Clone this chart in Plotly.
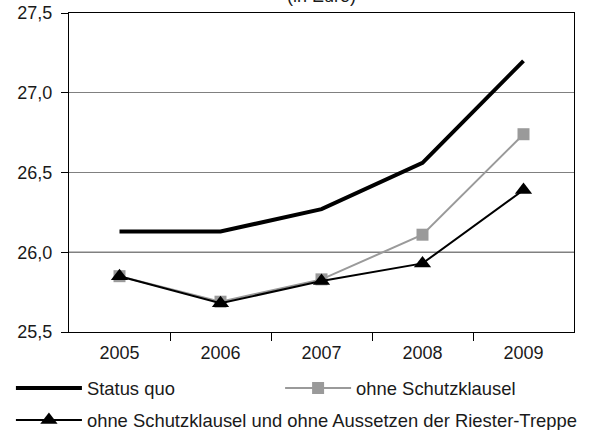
import plotly.graph_objects as go

years = [2005, 2006, 2007, 2008, 2009]
status_quo = [26.13, 26.13, 26.27, 26.56, 27.20]
ohne_schutzklausel = [25.85, 25.69, 25.83, 26.11, 26.74]
ohne_schutz_riester = [25.85, 25.68, 25.82, 25.93, 26.39]

names = [
    "Status quo",
    "ohne Schutzklausel",
    "ohne Schutzklausel und ohne Aussetzen der Riester-Treppe",
]
y_ticks = [25.5, 26.0, 26.5, 27.0, 27.5]

FONT = "Liberation Sans, Arial, sans-serif"
TXT = "#1a1a1a"

fig = go.Figure()
fig.add_trace(go.Scatter(
    x=years, y=status_quo, name=names[0], mode="lines",
    line=dict(color="black", width=4), legend="legend",
))
fig.add_trace(go.Scatter(
    x=years, y=ohne_schutzklausel, name=names[1], mode="lines+markers",
    line=dict(color="#9a9a9a", width=2),
    marker=dict(symbol="square", size=12, color="#9a9a9a"),
    legend="legend2",
))
fig.add_trace(go.Scatter(
    x=years, y=ohne_schutz_riester, name=names[2], mode="lines+markers",
    line=dict(color="black", width=2),
    marker=dict(symbol="triangle-up", size=15, color="black"),
    legend="legend3",
))

# darker reference line at 26,0
fig.add_hline(y=26.0, line=dict(color="black", width=1), layer="below")

fig.add_annotation(
    text="(in Euro)", xref="paper", yref="paper", x=0.5, y=1,
    yanchor="bottom", yshift=5, showarrow=False,
    font=dict(family=FONT, size=18, color=TXT),
)

legend_common = dict(
    xanchor="left", yanchor="middle", itemwidth=66,
    font=dict(family=FONT, size=18.4, color=TXT),
    bgcolor="rgba(0,0,0,0)",
)

fig.update_layout(
    width=596, height=430,
    margin=dict(l=69, r=22, t=13, b=98, autoexpand=False),
    paper_bgcolor="white", plot_bgcolor="white",
    separators=",.",
    font=dict(family=FONT, size=18, color=TXT),
    showlegend=True,
    legend=dict(x=-0.115, y=-0.1755, **legend_common),
    legend2=dict(x=0.418, y=-0.1755, **legend_common),
    legend3=dict(x=-0.115, y=-0.276, **legend_common),
    xaxis=dict(
        range=[2004.5, 2009.5], tickmode="array", tickvals=years,
        ticktext=[str(y) for y in years], ticks="", showgrid=False,
        showline=True, linecolor="black", linewidth=1, mirror=True,
        zeroline=False, ticklabelstandoff=4,
        minor=dict(tickmode="array", tickvals=[2005.5, 2006.5, 2007.5, 2008.5],
                   ticks="outside", ticklen=8, tickcolor="black", showgrid=False),
        tickfont=dict(family=FONT, size=18, color=TXT),
    ),
    yaxis=dict(
        range=[25.5, 27.5], tickmode="array", tickvals=y_ticks,
        tickformat=".1f", ticks="outside", ticklen=7, tickcolor="black",
        showgrid=True, gridcolor="#808080", gridwidth=1,
        showline=True, linecolor="black", linewidth=1, mirror=True,
        zeroline=False, ticklabelstandoff=5,
        tickfont=dict(family=FONT, size=18, color=TXT),
    ),
)

fig.write_html("out.html")
